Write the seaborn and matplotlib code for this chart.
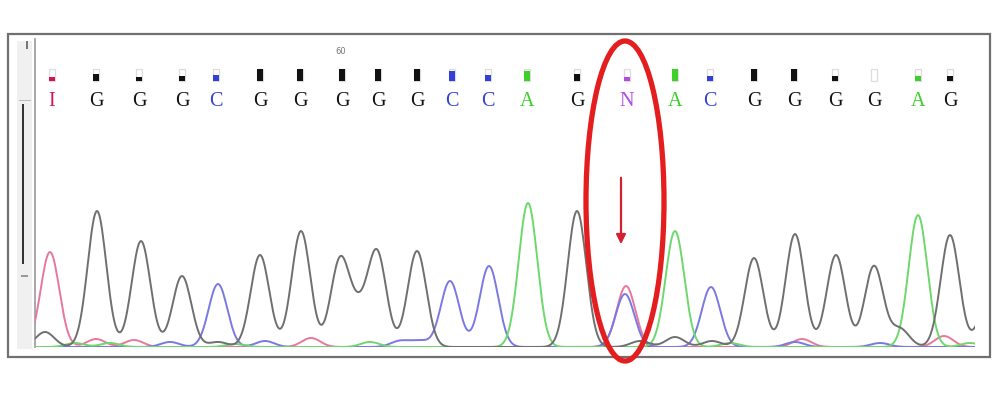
import numpy as np
import pandas as pd
import matplotlib
matplotlib.use("Agg")
import matplotlib.pyplot as plt
from matplotlib.patches import Rectangle, Ellipse
import seaborn as sns

# base calls along the read (scan position, letter, quality 0-1)
call_pos = [52, 96, 139, 182, 216, 260, 300, 342, 378, 417, 452, 488,
            527, 577, 627, 675, 710, 754, 794, 835, 874, 918, 950]
call_base = ["I", "G", "G", "G", "C", "G", "G", "G", "G", "G", "C", "C",
             "A", "G", "N", "A", "C", "G", "G", "G", "G", "A", "G"]
call_qual = [0.35, 0.6, 0.35, 0.45, 0.5, 1, 1, 1, 1, 1, 0.8, 0.5,
             0.8, 0.6, 0.25, 1, 0.4, 1, 1, 0.4, 0.0, 0.4, 0.4]

# peaks of each dye channel: centre and height
g_pos = [45, 97, 141, 182, 218, 260, 301, 340, 358, 377, 417, 577, 640, 675, 712,
         754, 795, 836, 874, 900, 950, 988]
g_amp = [15, 136, 106, 71, 5, 92, 116, 86, 30, 94, 96, 136, 6, 10, 6,
         89, 113, 92, 81, 18, 112, 45]
a_pos = [75, 110, 235, 370, 528, 675, 730, 918, 970]
a_amp = [4, 4, 3, 5, 144, 116, 4, 132, 4]
c_pos = [170, 218, 265, 400, 420, 450, 489, 625, 711, 795, 880]
c_amp = [5, 63, 6, 6, 6, 66, 81, 53, 60, 5, 4]
t_pos = [50, 96, 134, 311, 626, 802, 944]
t_amp = [95, 8, 7, 9, 61, 8, 11]

trace_colors = {"G": "#6f6f6f", "A": "#6ed86e", "C": "#7a78e2", "T": "#e8789a"}
base_colors = {"G": "#111111", "A": "#3fcf2a", "C": "#3340d8", "I": "#d4145a", "N": "#b04de0"}

scan = np.arange(30, 1000, 1.0)


def trace(pos, amp, sigma=9.3):
    y = np.zeros_like(scan)
    for p, a in zip(pos, amp):
        y += a * np.exp(-(scan - p) ** 2 / (2 * sigma ** 2))
    return y


frames = []
for ch, pos, amp in [("T", t_pos, t_amp), ("C", c_pos, c_amp),
                     ("A", a_pos, a_amp), ("G", g_pos, g_amp)]:
    frames.append(pd.DataFrame({"scan": scan, "signal": trace(pos, amp), "dye": ch}))
df = pd.concat(frames, ignore_index=True)

sns.set_style("white")
plt.rcParams["font.family"] = ["Liberation Serif", "DejaVu Serif"]

fig = plt.figure(figsize=(10, 4.02), dpi=100)


def fig_rect(x, y, w, h, **kw):
    # rectangle given in pixels from the top-left corner of the figure
    fig.patches.append(Rectangle((x / 1000, (402 - y - h) / 402), w / 1000, h / 402,
                                 transform=fig.transFigure, zorder=-5, **kw))


# outer frame and scroll bar
fig_rect(8, 35, 982, 323, facecolor="white", edgecolor="#707070", lw=1.6)
fig_rect(17, 42, 15, 308, facecolor="#f0f0f0", edgecolor="none")
fig_rect(21.5, 105, 2.5, 160, facecolor="#333333", edgecolor="none")
fig_rect(26, 42, 2, 8, facecolor="#777777", edgecolor="none")
fig_rect(19, 101, 12, 1, facecolor="#bbbbbb", edgecolor="none")
fig_rect(21, 276, 7, 1.5, facecolor="#999999", edgecolor="none")

ax = fig.add_axes([35 / 1000, 54 / 402, 940 / 1000, 308 / 402])
ax.set_facecolor("none")
sns.lineplot(data=df, x="scan", y="signal", hue="dye", palette=trace_colors,
             hue_order=["T", "C", "A", "G"], lw=1.4, legend=False, ax=ax, zorder=3)
ax.axhline(0, color="#555555", lw=2.0, zorder=2)

ax.set_xlim(35, 975)
ax.set_ylim(0, 308)
ax.set_xticks([])
ax.set_yticks([])
ax.set_xlabel("")
ax.set_ylabel("")
for s in ["top", "right", "bottom"]:
    ax.spines[s].set_visible(False)
ax.spines["left"].set_color("#999999")
ax.spines["left"].set_linewidth(1.2)

# base letters and quality bars
for x, b, q in zip(call_pos, call_base, call_qual):
    col = base_colors[b]
    ax.text(x, 246, b, color=col, fontsize=14.5, ha="center", va="center")
    ax.add_patch(Rectangle((x - 3, 266), 6, 12, facecolor="none", edgecolor="#dcdcdc", lw=0.9))
    if q > 0:
        ax.add_patch(Rectangle((x - 3, 266), 6, max(12 * q, 4), facecolor=col, edgecolor="none"))

ax.text(341, 296, "60", fontsize=6, color="#777777", ha="center", va="center",
        family="DejaVu Sans")

# highlight of the ambiguous position
ax.add_patch(Ellipse((625, 146), 78, 320, facecolor="none", edgecolor="#e41e1e",
                     lw=3.8, clip_on=False, zorder=5))
ax.annotate("", xy=(621, 100), xytext=(621, 172),
            arrowprops=dict(arrowstyle="-|>", color="#d42030", lw=1.6, mutation_scale=14))

fig.savefig("out.png", dpi=100)
